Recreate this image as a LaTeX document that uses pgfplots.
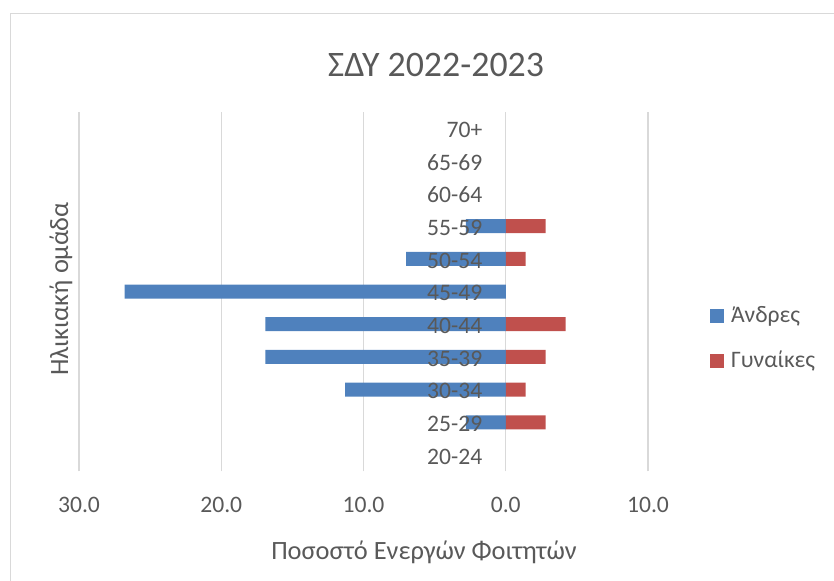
\documentclass[border=0pt]{standalone}
\usepackage{fontspec}
\setmainfont{Carlito}
\usepackage{pgfplots}
\pgfplotsset{compat=1.18}
\definecolor{men}{HTML}{4F81BD}
\definecolor{women}{HTML}{C0504D}
\definecolor{txt}{HTML}{595959}
\definecolor{grd}{HTML}{D9D9D9}
\pgfplotsset{
  base/.style={
    at={(79bp,109.6bp)}, anchor=south west,
    scale only axis, width=569bp, height=359.7bp,
    xmin=-30, xmax=10, ymin=-0.5, ymax=10.5,
    xtick={-30,-20,-10,0,10},
    ytick={0,1,2,3,4,5,6,7,8,9,10},
    major tick length=0pt,
    axis line style={draw=none},
  }
}
\begin{document}
\begin{tikzpicture}[x=1bp,y=1bp]
\path[use as bounding box] (0,0) rectangle (834,581);
\draw[grd, line width=1bp] (10,-5) -- (10,567) -- (840,567);
\begin{axis}[
  base,
  xticklabels={}, yticklabels={},
  xbar, bar width=14bp, bar shift=0pt,
  xmajorgrids, grid style={grd, line width=1.3bp},
  legend style={at={(1.109,0.4579)}, anchor=north west, draw=none, fill=none,
    inner sep=0pt, outer sep=0pt, row sep=23bp, column sep=7bp,
    font=\fontsize{23.7}{28}\selectfont, text=txt,
    nodes={inner sep=0pt, text height=16bp, text depth=6bp, anchor=base west}},
  legend cell align=left,
  legend image code/.code={\fill[#1] (0bp,0bp) rectangle (14bp,14bp);},
]
\addplot[fill=men, draw=none] coordinates {(-2.8,1) (-11.3,2) (-16.9,3) (-16.9,4) (-26.8,5) (-7.0,6) (-2.8,7)};
\addlegendentry{Άνδρες}
\addplot[fill=women, draw=none] coordinates {(2.8,1) (1.4,2) (2.8,3) (4.2,4) (1.4,6) (2.8,7)};
\addlegendentry{Γυναίκες}
\end{axis}
\begin{axis}[
  base,
  xticklabels={30.0,20.0,10.0,0.0,10.0},
  yticklabels={20-24,25-29,30-34,35-39,40-44,45-49,50-54,55-59,60-64,65-69,70+},
  tick label style={font=\fontsize{23.7}{28}\selectfont, text=txt},
  x tick label style={anchor=base, yshift=-41.3bp, inner sep=0pt},
  y tick label style={anchor=base east, xshift=403.5bp, yshift=-9.3bp, inner sep=0pt},
]
\end{axis}
\node[anchor=base, font=\fontsize{36}{40}\selectfont, text=txt, inner sep=0pt] at (436,504.3) {ΣΔΥ 2022-2023};
\node[anchor=base, font=\fontsize{26.5}{30}\selectfont, text=txt, inner sep=0pt] at (424,21) {Ποσοστό Ενεργών Φοιτητών};
\node[anchor=base, rotate=90, font=\fontsize{26.5}{30}\selectfont, text=txt, inner sep=0pt] at (68,292) {Ηλικιακή ομάδα};
\end{tikzpicture}
\end{document}
